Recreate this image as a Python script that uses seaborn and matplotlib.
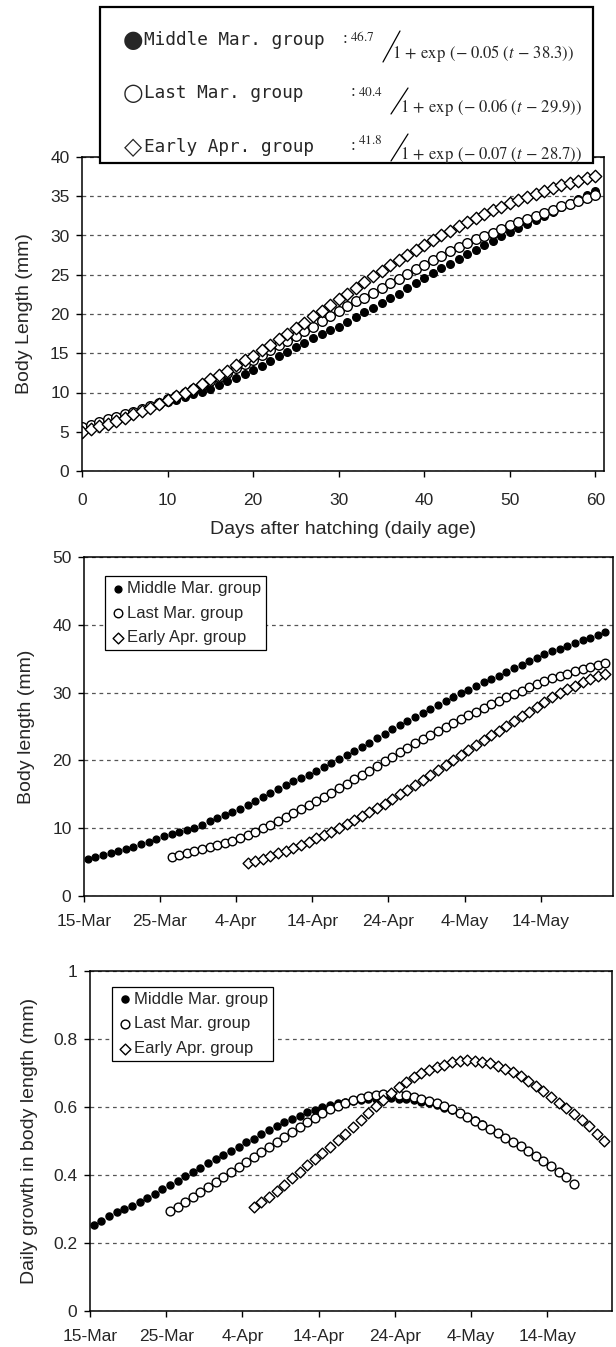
import matplotlib
matplotlib.use("Agg")
import matplotlib.dates as mdates
import matplotlib.pyplot as plt
import numpy as np
import pandas as pd
import seaborn as sns
from matplotlib.lines import Line2D
from matplotlib.patches import Rectangle
from matplotlib.ticker import FuncFormatter


FIG_W, FIG_H = 616, 1347
DPI = 100
START = pd.Timestamp("2005-03-15")

GROUPS = ["Middle Mar. group", "Last Mar. group", "Early Apr. group"]
SYMBOLS = ["\u25cf", "\u25cb", "\u25c7"]
FIT_K = ["46.7", "40.4", "41.8"]
FIT_R = ["0.05", "0.06", "0.07"]
FIT_T0 = ["38.3", "29.9", "28.7"]

# body length (mm) by days after hatching
AGE_DAYS = list(range(61))
AGE_MIDDLE_MAR = [
    5.4, 5.7, 6.0, 6.3, 6.6, 7.0, 7.3, 7.6, 8.0, 8.4,
    8.8, 9.1, 9.4, 9.8, 10.1, 10.5, 11.0, 11.5, 11.9, 12.4,
    12.9, 13.4, 14.0, 14.6, 15.2, 15.8, 16.3, 16.9, 17.4, 17.9,
    18.4, 19.0, 19.6, 20.2, 20.8, 21.4, 22.0, 22.6, 23.3, 23.9,
    24.6, 25.2, 25.8, 26.4, 27.0, 27.6, 28.2, 28.8, 29.3, 29.9,
    30.4, 31.0, 31.5, 32.0, 32.5, 33.0, 33.6, 34.1, 34.6, 35.1,
    35.7,
]
AGE_LAST_MAR = [
    5.6, 5.9, 6.2, 6.6, 6.9, 7.2, 7.5, 7.9, 8.3, 8.7,
    9.2, 9.6, 10.0, 10.5, 11.0, 11.5, 12.0, 12.5, 13.1, 13.6,
    14.2, 14.8, 15.4, 16.0, 16.6, 17.2, 17.8, 18.4, 19.1, 19.7,
    20.4, 21.0, 21.6, 22.1, 22.7, 23.3, 23.9, 24.5, 25.1, 25.7,
    26.3, 26.9, 27.4, 28.0, 28.5, 29.1, 29.5, 29.9, 30.3, 30.8,
    31.3, 31.7, 32.1, 32.5, 32.9, 33.3, 33.7, 34.0, 34.4, 34.8,
    35.2,
]
AGE_EARLY_APR = [
    5.0, 5.3, 5.7, 6.0, 6.4, 6.8, 7.2, 7.6, 8.0, 8.5,
    9.0, 9.5, 10.0, 10.5, 11.1, 11.7, 12.2, 12.8, 13.5, 14.1,
    14.7, 15.4, 16.1, 16.8, 17.5, 18.2, 18.9, 19.7, 20.4, 21.2,
    21.9, 22.6, 23.3, 24.1, 24.8, 25.5, 26.2, 26.9, 27.5, 28.2,
    28.8, 29.4, 30.0, 30.6, 31.2, 31.7, 32.2, 32.7, 33.2, 33.6,
    34.1, 34.5, 34.9, 35.3, 35.7, 36.0, 36.4, 36.7, 37.0, 37.3,
    37.6,
]

# body length (mm) by date; first day of each series counted from 15-Mar
LEN_START_DAY = [0, 11, 21]
LEN_MIDDLE_MAR = [
    5.4, 5.7, 6.0, 6.3, 6.6, 7.0, 7.3, 7.6, 8.0, 8.4,
    8.8, 9.1, 9.4, 9.8, 10.1, 10.5, 11.0, 11.5, 11.9, 12.4,
    12.9, 13.4, 14.0, 14.6, 15.2, 15.8, 16.3, 16.9, 17.4, 17.9,
    18.4, 19.0, 19.6, 20.2, 20.8, 21.4, 22.0, 22.6, 23.3, 23.9,
    24.6, 25.2, 25.8, 26.4, 27.0, 27.6, 28.2, 28.8, 29.3, 29.9,
    30.4, 31.0, 31.5, 32.0, 32.5, 33.0, 33.6, 34.1, 34.6, 35.1,
    35.7, 36.1, 36.5, 36.9, 37.3, 37.7, 38.1, 38.5, 38.9,
]
LEN_LAST_MAR = [
    5.7, 6.0, 6.3, 6.6, 6.9, 7.2, 7.5, 7.8, 8.1, 8.5,
    9.0, 9.5, 10.0, 10.5, 11.1, 11.6, 12.2, 12.8, 13.4, 14.0,
    14.6, 15.2, 15.9, 16.5, 17.2, 17.8, 18.5, 19.2, 19.9, 20.5,
    21.2, 21.9, 22.5, 23.1, 23.7, 24.3, 24.9, 25.5, 26.1, 26.7,
    27.2, 27.7, 28.3, 28.8, 29.3, 29.8, 30.3, 30.8, 31.3, 31.7,
    32.1, 32.5, 32.8, 33.2, 33.5, 33.8, 34.1, 34.4,
]
LEN_EARLY_APR = [
    4.9, 5.2, 5.5, 5.9, 6.3, 6.7, 7.1, 7.5, 8.0, 8.5,
    9.0, 9.5, 10.0, 10.6, 11.2, 11.8, 12.4, 13.0, 13.6, 14.3,
    15.0, 15.7, 16.4, 17.1, 17.8, 18.6, 19.3, 20.0, 20.8, 21.5,
    22.2, 23.0, 23.7, 24.4, 25.1, 25.8, 26.5, 27.2, 27.9, 28.6,
    29.3, 29.9, 30.5, 31.0, 31.5, 32.0, 32.4, 32.8,
]

# daily growth in body length (mm) by date
GROWTH_START_DAY = [0, 10, 21]
GROWTH_MIDDLE_MAR = [
    0.252, 0.266, 0.278, 0.290, 0.300, 0.310, 0.322, 0.333, 0.345, 0.358,
    0.370, 0.383, 0.397, 0.410, 0.422, 0.434, 0.447, 0.459, 0.471, 0.483,
    0.496, 0.507, 0.520, 0.533, 0.545, 0.555, 0.565, 0.575, 0.585, 0.592,
    0.600, 0.607, 0.612, 0.616, 0.619, 0.622, 0.624, 0.625, 0.626, 0.626,
    0.625, 0.623, 0.620, 0.616, 0.611, 0.605, 0.598, 0.590, 0.581, 0.572,
    0.562, 0.551,
]
GROWTH_LAST_MAR = [
    0.293, 0.306, 0.320, 0.335, 0.350, 0.364, 0.379, 0.394, 0.409, 0.424,
    0.439, 0.453, 0.468, 0.483, 0.498, 0.512, 0.527, 0.541, 0.555, 0.568,
    0.581, 0.593, 0.604, 0.613, 0.621, 0.627, 0.632, 0.635, 0.637, 0.637,
    0.636, 0.634, 0.630, 0.625, 0.619, 0.611, 0.602, 0.593, 0.583, 0.572,
    0.560, 0.548, 0.535, 0.523, 0.510, 0.497, 0.484, 0.470, 0.455, 0.441,
    0.426, 0.410, 0.393, 0.375,
]
GROWTH_EARLY_APR = [
    0.305, 0.322, 0.336, 0.352, 0.370, 0.390, 0.410, 0.428, 0.447, 0.465,
    0.483, 0.503, 0.522, 0.542, 0.562, 0.582, 0.602, 0.622, 0.642, 0.658,
    0.673, 0.688, 0.699, 0.710, 0.718, 0.725, 0.731, 0.735, 0.737, 0.736,
    0.733, 0.728, 0.721, 0.712, 0.702, 0.690, 0.677, 0.662, 0.646, 0.630,
    0.613, 0.597, 0.580, 0.562, 0.543, 0.522, 0.500,
]

MARKERS = ["o", "o", "D"]
FACES = ["black", "white", "white"]

# placement of the fit-equation rows inside the top box (pixels)
ROW_Y = [40, 93, 147]
COLON_X = [345, 353, 353]
NUM_DY = [-3, -1, -6]
DEN_DY = [13, 15, 8]
SLASH_DY = [(22, -9), (21, -5), (14, -13)]


def px_box(left, top, right, bottom):
    return [left / FIG_W, 1 - bottom / FIG_H, (right - left) / FIG_W, (bottom - top) / FIG_H]


def fx(px):
    return px / FIG_W


def fy(py):
    return 1 - py / FIG_H


def date_positions(start_day, n):
    # Excel date axis puts each point in the middle of its day
    return START + pd.to_timedelta(np.arange(n) + start_day + 0.5, unit="D")


def style_axes(ax, ymax, ystep, xpad):
    ax.set_ylim(0, ymax)
    ax.set_yticks(np.arange(0, ymax + ystep / 2, ystep))
    ax.yaxis.grid(True, linestyle=(0, (3, 3)), color="#555555", linewidth=0.9)
    ax.xaxis.grid(False)
    ax.set_axisbelow(True)
    for spine in ax.spines.values():
        spine.set_visible(True)
        spine.set_color("black")
        spine.set_linewidth(1.1)
    ax.tick_params(direction="out", length=4, width=1, color="black", labelsize=12.5)
    ax.tick_params(axis="y", pad=5)
    ax.tick_params(axis="x", pad=xpad)


def style_date_axis(ax, xmax_day):
    ax.set_xlim(START, START + pd.Timedelta(days=xmax_day))
    ax.set_xticks(pd.date_range(START, periods=7, freq="10D"))
    ax.xaxis.set_major_formatter(mdates.DateFormatter("%-d-%b"))
    ax.set_xlabel("")


def add_group_legend(ax, anchor):
    leg = ax.legend(
        loc="upper left", bbox_to_anchor=anchor, borderaxespad=0,
        frameon=True, fancybox=False, framealpha=1, edgecolor="black",
        fontsize=12, borderpad=0.3, labelspacing=0.58,
        handletextpad=0.1, handlelength=0.9,
    )
    leg.get_frame().set_linewidth(0.9)


def draw_fit_box(fig):
    fig.add_artist(Rectangle(
        (fx(100), fy(163)), (593 - 100) / FIG_W, (163 - 7) / FIG_H,
        transform=fig.transFigure, facecolor="white", edgecolor="black",
        linewidth=1.6, zorder=5,
    ))
    for i in range(3):
        yc, cx = ROW_Y[i], COLON_X[i]
        fig.text(fx(133), fy(yc), SYMBOLS[i], fontsize=17, family="DejaVu Sans",
                 va="center", ha="center", zorder=6)
        fig.text(fx(144), fy(yc), GROUPS[i], fontsize=12.8,
                 family=["DejaVu Sans Mono", "DejaVu Sans"], va="center", ha="left", zorder=6)
        fig.text(fx(cx), fy(yc - 1), ":", fontsize=12, family="Liberation Serif",
                 va="center", ha="center", zorder=6)
        fig.text(fx(cx + 5), fy(yc + NUM_DY[i]), rf"${FIT_K[i]}$", fontsize=9.5,
                 va="center", ha="left", zorder=6)
        bottom, top = SLASH_DY[i]
        fig.add_artist(Line2D([fx(cx + 38), fx(cx + 55)], [fy(yc + bottom), fy(yc + top)],
                              transform=fig.transFigure, color="black", linewidth=0.9, zorder=6))
        fig.text(fx(cx + 47), fy(yc + DEN_DY[i]),
                 rf"$1\,+\,\exp\;(-\;{FIT_R[i]}\;(t\,-\,{FIT_T0[i]}))$",
                 fontsize=12, va="center", ha="left", zorder=6)


def scatter_groups(ax, xs, ys, sizes):
    for i in range(3):
        sns.scatterplot(
            x=xs[i], y=ys[i], ax=ax, marker=MARKERS[i], s=sizes[i],
            color=FACES[i], edgecolor="black", linewidth=1.0, label=GROUPS[i],
        )


def main():
    sns.set_style("ticks")
    plt.rcParams["font.family"] = ["Liberation Sans", "DejaVu Sans"]
    plt.rcParams["mathtext.fontset"] = "stix"

    fig = plt.figure(figsize=(FIG_W / DPI, FIG_H / DPI), dpi=DPI)

    # panel 1: growth curves by age
    ax1 = fig.add_axes(px_box(82, 157, 604, 471))
    scatter_groups(ax1, [AGE_DAYS] * 3, [AGE_MIDDLE_MAR, AGE_LAST_MAR, AGE_EARLY_APR], [30, 48, 40])
    ax1.get_legend().remove()
    ax1.set_xlim(0, 61)
    ax1.set_xticks(range(0, 61, 10))
    style_axes(ax1, 40, 5, 12)
    ax1.set_xlabel("Days after hatching (daily age)", fontsize=14)
    ax1.xaxis.set_label_coords(0.5, -0.16)
    ax1.set_ylabel("Body Length (mm)", fontsize=14)
    ax1.yaxis.set_label_coords(-0.094, 0.5)

    # panel 2: body length by date
    ax2 = fig.add_axes(px_box(84, 557, 613, 896))
    len_series = [LEN_MIDDLE_MAR, LEN_LAST_MAR, LEN_EARLY_APR]
    xs = [date_positions(LEN_START_DAY[i], len(len_series[i])) for i in range(3)]
    scatter_groups(ax2, xs, len_series, [24, 38, 30])
    style_axes(ax2, 50, 10, 9)
    style_date_axis(ax2, 69.5)
    ax2.set_ylabel("Body length (mm)", fontsize=14)
    ax2.yaxis.set_label_coords(-0.093, 0.5)
    add_group_legend(ax2, (0.04, 0.944))

    # panel 3: daily growth by date
    ax3 = fig.add_axes(px_box(90, 971, 612, 1311))
    growth_series = [GROWTH_MIDDLE_MAR, GROWTH_LAST_MAR, GROWTH_EARLY_APR]
    xs = [date_positions(GROWTH_START_DAY[i], len(growth_series[i])) for i in range(3)]
    scatter_groups(ax3, xs, growth_series, [26, 40, 30])
    style_axes(ax3, 1.0, 0.2, 9)
    style_date_axis(ax3, 68.5)
    ax3.yaxis.set_major_formatter(FuncFormatter(lambda v, _: f"{v:g}"))
    ax3.set_ylabel("Daily growth in body length (mm)", fontsize=14)
    ax3.yaxis.set_label_coords(-0.10, 0.5)
    add_group_legend(ax3, (0.043, 0.954))

    draw_fit_box(fig)

    fig.savefig("out.png", dpi=DPI)
    plt.close(fig)


if __name__ == "__main__":
    main()
